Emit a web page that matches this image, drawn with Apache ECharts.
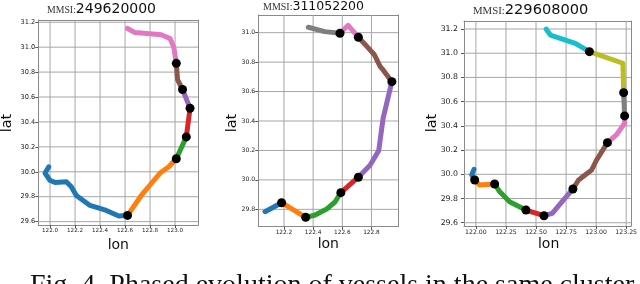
<!DOCTYPE html>
<html><head><meta charset="utf-8">
<script src="https://cdn.jsdelivr.net/npm/echarts@6/dist/echarts.min.js"></script>
<style>html,body{margin:0;padding:0;background:#fff;}#c{width:640px;height:284px;}</style>
</head><body><div id="c"></div>
<script>
// ---- Vessel 1 (MMSI 249620000) segments [lon, lat]
const v1Blue   = [[121.99,30.04],[121.96,29.99],[122.0,29.93],[122.04,29.915],[122.13,29.92],[122.17,29.88],[122.21,29.81],[122.32,29.73],[122.45,29.69],[122.55,29.645],[122.62,29.65]];
const v1Orange = [[122.62,29.65],[122.73,29.81],[122.83,29.93],[122.88,29.99],[122.95,30.04],[123.01,30.105]];
const v1Green  = [[123.01,30.105],[123.09,30.28]];
const v1Red    = [[123.09,30.28],[123.12,30.51]];
const v1Purple = [[123.12,30.51],[123.06,30.66]];
const v1Brown  = [[123.06,30.66],[123.02,30.74],[123.01,30.87]];
const v1Pink   = [[123.01,30.87],[122.99,31.00],[122.96,31.07],[122.89,31.10],[122.68,31.117],[122.62,31.15]];
// ---- Vessel 2 (MMSI 311052200)
const v2Blue   = [[122.07,29.784],[122.184,29.845]];
const v2Orange = [[122.184,29.845],[122.349,29.746]];
const v2Green  = [[122.349,29.746],[122.41,29.76],[122.49,29.80],[122.55,29.85],[122.59,29.913]];
const v2Red    = [[122.59,29.913],[122.71,30.018]];
const v2Purple = [[122.71,30.018],[122.79,30.10],[122.85,30.20],[122.88,30.42],[122.94,30.667]];
const v2Brown  = [[122.94,30.667],[122.88,30.747],[122.86,30.77],[122.82,30.85],[122.77,30.905],[122.71,30.969]];
const v2Pink   = [[122.71,30.969],[122.64,31.05],[122.584,30.996]];
const v2Gray   = [[122.584,30.996],[122.48,31.007],[122.367,31.037]];
// ---- Vessel 3 (MMSI 229608000)
const v3Blue   = [[121.984,30.041],[121.965,29.994],[121.99,29.953]];
const v3Orange = [[121.99,29.953],[122.03,29.912],[122.156,29.92]];
const v3Green  = [[122.156,29.92],[122.197,29.857],[122.28,29.774],[122.416,29.705]];
const v3Red    = [[122.416,29.705],[122.566,29.658]];
const v3Purple = [[122.566,29.658],[122.635,29.678],[122.717,29.774],[122.807,29.879]];
const v3Brown  = [[122.807,29.879],[122.854,29.953],[122.963,30.036],[123.004,30.118],[123.094,30.261]];
const v3Pink   = [[123.094,30.261],[123.168,30.325],[123.237,30.421],[123.237,30.482]];
const v3Gray   = [[123.237,30.482],[123.229,30.674]];
const v3Olive  = [[123.229,30.674],[123.223,30.917],[122.944,31.013]];
const v3Cyan   = [[122.944,31.013],[122.827,31.082],[122.745,31.109],[122.62,31.15],[122.59,31.19],[122.585,31.2]];
// ---- Tick labels
const v1XTicks = [122.0,122.2,122.4,122.6,122.8,123.0];
const v1YTicks = [29.6,29.8,30.0,30.2,30.4,30.6,30.8,31.0,31.2];
const v2XTicks = [122.2,122.4,122.6,122.8];
const v2YTicks = [29.8,30.0,30.2,30.4,30.6,30.8,31.0];
const v3XTicks = [122.0,122.25,122.5,122.75,123.0,123.25];
const v3YTicks = [29.6,29.8,30.0,30.2,30.4,30.6,30.8,31.0,31.2];
const titles = ['249620000','311052200','229608000'];

const C = {blue:'#1f77b4',orange:'#ff7f0e',green:'#2ca02c',red:'#d62728',purple:'#9467bd',brown:'#8c564b',pink:'#e377c2',gray:'#7f7f7f',olive:'#bcbd22',cyan:'#17becf'};
const vessels = [
  [[v1Blue,C.blue],[v1Orange,C.orange],[v1Green,C.green],[v1Red,C.red],[v1Purple,C.purple],[v1Brown,C.brown],[v1Pink,C.pink]],
  [[v2Blue,C.blue],[v2Orange,C.orange],[v2Green,C.green],[v2Red,C.red],[v2Purple,C.purple],[v2Brown,C.brown],[v2Pink,C.pink],[v2Gray,C.gray]],
  [[v3Blue,C.blue],[v3Orange,C.orange],[v3Green,C.green],[v3Red,C.red],[v3Purple,C.purple],[v3Brown,C.brown],[v3Pink,C.pink],[v3Gray,C.gray],[v3Olive,C.olive],[v3Cyan,C.cyan]]
];
const ticks = [[v1XTicks,v1YTicks],[v2XTicks,v2YTicks],[v3XTicks,v3YTicks]];

const grids = [
  {left:38.3, top:20, width:160, height:205},
  {left:258.3, top:15, width:140, height:211.7},
  {left:464, top:21, width:169.3, height:205}
];
const xr = [[121.906,123.186],[122.024,122.984],[121.901,123.291]];
const yr = [[29.573,31.218],[29.682,31.120],[29.573,31.266]];
const xDec = [1,1,2];
const labFs = [[5.6,6.6],[5.8,6.2],[6.2,7.8]];
const labMargin = [[3,3],[3,3],[3,6]];

const FONT = 'DejaVu Sans';
const FRAME = {show:true,onZero:false,lineStyle:{color:'#8a8a8a',width:1}};
const GRID_COLOR = '#a6a6a6';
const titleDef = [[47,2,9.8,14],[263,0,10,12.5],[473,3,10.8,14.6]];

const xAxes = [], yAxes = [];
grids.forEach((g,i)=>{
  xAxes.push({type:'value',gridIndex:i,position:'bottom',min:xr[i][0],max:xr[i][1],z:1,
    axisLine:FRAME,splitLine:{show:false},
    axisTick:{show:true,length:3,lineStyle:{color:'#555'},customValues:ticks[i][0]},
    axisLabel:{customValues:ticks[i][0],formatter:v=>v.toFixed(xDec[i]),fontSize:labFs[i][0],color:'#222',fontFamily:FONT,margin:labMargin[i][0]}});
  yAxes.push({type:'value',gridIndex:i,position:'left',min:yr[i][0],max:yr[i][1],z:1,
    axisLine:FRAME,splitLine:{show:false},
    axisTick:{show:true,length:3,lineStyle:{color:'#555'},customValues:ticks[i][1]},
    axisLabel:{customValues:ticks[i][1],formatter:v=>v.toFixed(1),fontSize:labFs[i][1],color:'#222',fontFamily:FONT,margin:labMargin[i][1]}});
});
grids.forEach((g,i)=>{
  xAxes.push({type:'value',gridIndex:i,position:'top',min:xr[i][0],max:xr[i][1],z:1,
    axisLine:FRAME,splitLine:{show:false},axisTick:{show:false},axisLabel:{show:false}});
  yAxes.push({type:'value',gridIndex:i,position:'right',min:yr[i][0],max:yr[i][1],z:1,
    axisLine:FRAME,splitLine:{show:false},axisTick:{show:false},axisLabel:{show:false}});
});

const option = {
  animation:false,
  backgroundColor:'#fff',
  grid: grids.map(g=>Object.assign({show:false,containLabel:false},g)),
  xAxis: xAxes,
  yAxis: yAxes,
  title: titleDef.map((t,i)=>({left:t[0],top:t[1],padding:0,text:'{a|MMSI:}{b|'+titles[i]+'}',
    textStyle:{fontWeight:'normal',rich:{
      a:{fontFamily:'Liberation Serif',fontWeight:'normal',fontSize:t[2],color:'#333',verticalAlign:'bottom',padding:[0,0,1,0]},
      b:{fontFamily:FONT,fontWeight:'normal',fontSize:t[3],color:'#111',verticalAlign:'bottom'}}}})),
  graphic: [
    {type:'text',x:7.5,y:123,rotation:Math.PI/2,style:{text:'lat',align:'center',verticalAlign:'middle',fontSize:14.5,fontFamily:FONT,fill:'#111'}},
    {type:'text',x:232.5,y:123,rotation:Math.PI/2,style:{text:'lat',align:'center',verticalAlign:'middle',fontSize:14.5,fontFamily:FONT,fill:'#111'}},
    {type:'text',x:432.5,y:123,rotation:Math.PI/2,style:{text:'lat',align:'center',verticalAlign:'middle',fontSize:14.5,fontFamily:FONT,fill:'#111'}},
    {type:'text',x:118.3,y:245,style:{text:'lon',align:'center',verticalAlign:'middle',fontSize:14,fontFamily:FONT,fill:'#111'}},
    {type:'text',x:328.3,y:244,style:{text:'lon',align:'center',verticalAlign:'middle',fontSize:14,fontFamily:FONT,fill:'#111'}},
    {type:'text',x:548.6,y:244,style:{text:'lon',align:'center',verticalAlign:'middle',fontSize:14,fontFamily:FONT,fill:'#111'}},
    {type:'text',x:30,y:272,style:{text:'Fig. 4. Phased evolution of vessels in the same cluster.',align:'left',verticalAlign:'top',fontSize:28,fontFamily:'Liberation Serif',fill:'#111'}}
  ],
  series: []
};

vessels.forEach((segs,i)=>{
  // gridlines at tick values, placed through the axes' scales
  ticks[i][0].forEach(v=>{ option.series.push({type:'line',xAxisIndex:i,yAxisIndex:i,data:[[v,yr[i][0]],[v,yr[i][1]]],
    symbol:'none',silent:true,z:2,lineStyle:{color:GRID_COLOR,width:1}}); });
  ticks[i][1].forEach(v=>{ option.series.push({type:'line',xAxisIndex:i,yAxisIndex:i,data:[[xr[i][0],v],[xr[i][1],v]],
    symbol:'none',silent:true,z:2,lineStyle:{color:GRID_COLOR,width:1}}); });
  segs.forEach(([d,col])=>{
    option.series.push({type:'line',xAxisIndex:i,yAxisIndex:i,data:d,symbol:'none',z:3,
      lineStyle:{color:col,width:5,cap:'round',join:'round'}});
  });
  const dots = segs.slice(1).map(s=>s[0][0]);
  option.series.push({type:'scatter',xAxisIndex:i,yAxisIndex:i,data:dots,symbol:'circle',symbolSize:9,z:5,
    itemStyle:{color:'#000',opacity:1}});
});

const chart = echarts.init(document.getElementById('c'),null,{renderer:'canvas'});
chart.setOption(option);
</script></body></html>
